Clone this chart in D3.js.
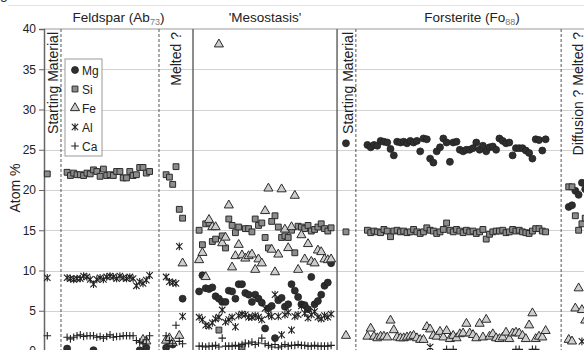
<!DOCTYPE html>
<html>
<head>
<meta charset="utf-8">
<script src="https://cdn.jsdelivr.net/npm/d3@7"></script>
<style>
  body { margin: 0; background: #fff; }
  svg { display: block; font-family: "Liberation Sans", Arial, sans-serif; }
</style>
</head>
<body>
<svg id="chart" width="584" height="350"></svg>
<script>
const N = null;

// y ticks
const yTicks = [0, 5, 10, 15, 20, 25, 30, 35, 40];
const elements = ['Mg', 'Si', 'Fe', 'Al', 'Ca'];

// analysis numbers (x) where each group begins
const firstAnalysis = { fsStart: 1, fsMain: 7, fsMelt: 37, meso: 47, foStart: 91.5, foMain: 98, foDiff: 159 };

// Feldspar starting material
const fsStartMg = [N];
const fsStartSi = [22.0];
const fsStartFe = [N];
const fsStartAl = [9.1];
const fsStartCa = [1.9];

// Feldspar traverse
const fsMainMg = [0.3, N, N, N, N, N, N, N, 0.1, N, N, N, N, N, N, N, N, N, N, N, N, N, 0.1, N, 0.4, N];
const fsMainSi = [22.2, 21.8, 22.1, 21.9, 21.9, 21.8, 22.1, 22.0, 22.5, 22.3, 21.7, 22.6, 21.8, 21.9, 21.8, 22.3, 22.3, 21.5, 21.5, 22.3, 21.8, 21.9, 22.8, 22.8, 22.1, 22.3];
const fsMainFe = [N, N, N, N, N, N, N, N, N, N, N, N, N, N, N, N, N, N, N, N, N, N, N, 1.4, 1.2, N];
const fsMainAl = [9.1, 9.0, 8.9, 9.0, 9.0, 9.3, 9.2, 8.9, 8.3, 8.9, 9.1, 8.9, 9.2, 9.3, 9.2, 9.0, 9.3, 9.1, 9.0, 9.2, 9.0, 8.1, 8.6, 8.4, 8.8, 9.4];
const fsMainCa = [1.7, 1.5, 1.7, 1.9, 2.0, 1.8, 1.9, 1.9, 1.9, 1.7, 1.8, 1.6, 1.8, 2.0, 1.7, 1.8, 1.8, 1.9, 1.9, 1.9, 1.9, 1.3, 1.1, 0.9, 1.4, 1.9];

// Feldspar "Melted ?"
const fsMeltMg = [0.4, 1.0, 0.8, N, N, 6.5];
const fsMeltSi = [21.9, 21.6, 20.7, 22.9, 17.6, 16.5];
const fsMeltFe = [1.3, 1.6, 1.0, N, 1.9, 10.9];
const fsMeltAl = [9.2, 8.6, 8.5, 8.4, 13.0, 4.3];
const fsMeltCa = [1.9, 1.3, 0.9, 3.2, 1.2, 0.9];

// 'Mesostasis'
const mesoMg = [7.4, 9.4, 7.8, 7.7, 7.9, 6.8, 6.5, 6.1, 6.1, 7.5, 7.4, 6.5, 8.3, 8.3, 7.2, 7.0, 6.1, 7.0, 6.5, 6.0, 2.8, 5.3, 5.6, 1.6, 6.3, 6.6, 5.5, 5.8, 8.3, 7.5, 6.7, 5.8, 5.7, 5.2, 9.2, 5.8, 6.2, 7.0, 8.1, 8.5, 10.9];
const mesoSi = [15.0, 13.2, 15.8, 15.9, 13.6, 13.9, 2.6, 14.3, 12.8, 16.4, 15.6, 14.7, 15.4, 0.5, 15.2, 15.2, 14.8, 16.4, 15.6, 15.9, 14.1, 12.8, 16.1, 16.8, 15.4, 14.1, 14.3, 14.1, 15.0, 12.2, 15.5, 15.4, 15.2, 15.6, 14.9, 15.1, 15.4, 15.8, 15.2, 14.9, 15.3];
const mesoFe = [11.3, 12.2, 9.2, 16.3, 15.4, 15.4, 38.1, 13.4, 14.1, 18.1, 10.4, 11.8, 13.2, 11.9, 11.5, 11.8, 12.0, 10.1, 11.4, 10.9, 17.4, 20.2, 12.6, 9.8, 12.0, 20.1, 15.1, 12.8, 15.4, 19.3, 10.1, 14.4, 11.4, 13.3, 11.1, 10.9, 12.5, 12.3, 11.4, 11.3, 11.4];
const mesoAl = [4.2, 3.9, 3.2, 3.1, 3.5, 4.0, 4.2, 5.1, 3.6, 3.9, 4.2, 3.0, 4.4, 4.6, 4.5, 4.2, 4.2, 4.4, 4.2, 3.9, 5.3, 4.5, 4.3, 7.0, 4.3, 2.0, 4.5, 4.8, 2.6, 4.3, 4.5, 5.6, 4.7, 4.1, 4.5, 4.9, 4.2, 4.0, 4.4, 4.2, 4.6];
const mesoCa = [0.6, 0.6, 0.5, 0.6, 0.6, 0.7, 0.5, 1.6, 0.6, 0.6, 0.6, 0.7, 0.6, 0.8, 1.0, 0.9, 1.1, 0.8, 1.0, 1.6, 0.9, 0.7, 0.5, 0.8, 0.4, 0.6, 0.8, 0.6, 0.7, 0.7, 0.8, 0.7, 0.7, 0.6, 0.6, 0.7, 0.6, 0.6, 0.6, 0.6, 0.7];

// Forsterite starting material
const foStartMg = [25.8];
const foStartSi = [14.8];
const foStartFe = [1.9];
const foStartAl = [N];
const foStartCa = [N];

// Forsterite traverse
const foMainMg = [25.6, 25.3, 25.6, 25.5, 26.1, 26.0, 25.9, 25.1, 24.3, 26.0, 25.9, 26.0, 25.8, 26.1, 25.9, 26.1, 24.8, 26.4, 26.3, 23.9, 23.4, 24.8, 25.3, 26.4, 25.9, 23.5, 25.9, 26.0, 25.0, 24.8, 25.0, 25.0, 25.2, 25.9, 25.0, 25.5, 24.8, 25.3, 25.4, 25.0, 26.4, 26.1, 25.8, 25.9, 24.3, 25.2, 25.2, 25.2, 24.9, 24.6, 23.9, 26.3, 26.2, 24.9, 26.3];
const foMainSi = [15.0, 14.7, 14.9, 14.8, 14.7, 15.1, 14.9, 14.2, 14.9, 15.0, 14.8, 14.9, 14.7, 14.8, 15.1, 14.8, 14.6, 14.8, 15.3, 15.0, 14.9, 14.6, 14.8, 15.1, 15.9, 15.0, 14.8, 15.1, 14.9, 14.7, 15.0, 14.8, 14.9, 14.6, 14.8, 15.1, 13.9, 14.5, 14.8, 14.9, 14.9, 15.0, 14.7, 14.8, 15.1, 14.9, 15.0, 14.8, 14.7, 14.6, 14.9, 15.2, 15.2, 14.9, 14.8];
const foMainFe = [1.8, 2.8, 1.8, 1.6, 1.8, 1.8, 1.7, 3.8, 2.6, 1.7, 1.6, 1.6, 1.7, 1.8, 1.9, 1.6, 1.4, 1.4, 3.0, 2.7, 1.9, 1.8, 2.4, 1.7, 2.5, 1.5, 1.9, 1.6, 2.1, 2.2, 3.4, 2.2, 2.0, 1.6, 3.4, 1.7, 3.9, 1.8, 2.1, 1.6, 1.5, 1.7, 2.3, 1.5, 2.2, 2.3, 2.2, 1.9, 1.5, 3.2, 4.7, 1.5, 1.8, 1.7, 2.5];
const foMainAl = [N, N, N, N, N, N, N, N, N, N, N, N, N, N, N, N, N, N, N, 0.5, N, N, N, N, N, N, N, N, N, N, N, N, N, N, N, N, N, N, N, N, N, N, N, N, N, N, N, N, N, N, N, N, N, N, N];
const foMainCa = [N, N, N, N, N, N, N, N, N, N, N, N, N, N, N, N, N, N, N, N, N, N, N, N, 0.2, N, 0.2, N, N, N, N, N, N, N, N, N, N, N, N, N, N, N, N, N, N, 0.2, 0.2, N, N, N, 0.2, 0.2, N, N, N];

// Forsterite "Diffusion ? Melted ?"
const foDiffMg = [17.9, 18.1, 19.9, 19.4, 20.9, 20.1];
const foDiffSi = [20.4, 20.4, 16.8, 15.0, 15.8, 16.5];
const foDiffFe = [1.4, 1.2, 5.3, 7.8, 5.1, 3.8];
const foDiffAl = [N, N, N, N, 1.2, N];
const foDiffCa = [N, N, N, N, N, N];

// panel layout in analysis-number units
const panels = [
  { title: 'Feldspar (Ab', sub: '73', tail: ')', from: 0, to: 45.15 },
  { title: "'Mesostasis'", sub: '', tail: '', from: 45.15, to: 88.8 },
  { title: 'Forsterite (Fo', sub: '88', tail: ')', from: 88.8, to: 170.6 },
];
const dashedAt = [5.15, 34.85, 94.5, 156.7];
const zoneLabels = [
  { text: 'Starting Material', at: 4.2 },
  { text: 'Melted ?', at: 41.5 },
  { text: 'Starting Material', at: 93.5 },
  { text: 'Diffusion ? Melted ?', at: 163.3 },
];

const groups = [
  { key: 'fsStart', Mg: fsStartMg, Si: fsStartSi, Fe: fsStartFe, Al: fsStartAl, Ca: fsStartCa },
  { key: 'fsMain', Mg: fsMainMg, Si: fsMainSi, Fe: fsMainFe, Al: fsMainAl, Ca: fsMainCa },
  { key: 'fsMelt', Mg: fsMeltMg, Si: fsMeltSi, Fe: fsMeltFe, Al: fsMeltAl, Ca: fsMeltCa },
  { key: 'meso', Mg: mesoMg, Si: mesoSi, Fe: mesoFe, Al: mesoAl, Ca: mesoCa },
  { key: 'foStart', Mg: foStartMg, Si: foStartSi, Fe: foStartFe, Al: foStartAl, Ca: foStartCa },
  { key: 'foMain', Mg: foMainMg, Si: foMainSi, Fe: foMainFe, Al: foMainAl, Ca: foMainCa },
  { key: 'foDiff', Mg: foDiffMg, Si: foDiffSi, Fe: foDiffFe, Al: foDiffAl, Ca: foDiffCa },
];

const points = [];
elements.forEach((el) => {
  groups.forEach((g) => {
    g[el].forEach((v, i) => {
      if (v !== null) points.push({ el: el, n: firstAnalysis[g.key] + i, v: v });
    });
  });
});

const svg = d3.select('#chart');
const plotTop = 29, plotBottom = 351, plotLeft = 44;

const x = d3.scaleLinear().domain([0, 170.6]).range([plotLeft, 607]);
const y = d3.scaleLinear().domain([0, 40]).range([plotBottom, plotTop]);

// faint header line and stray figure letter
svg.append('line').attr('x1', 8).attr('x2', 584).attr('y1', 5.5).attr('y2', 5.5)
  .style('stroke', '#e2e2e2');
svg.append('text').attr('x', 0).attr('y', -1).style('font-size', '14px').style('fill', '#333').text('g');

// gridlines
svg.append('g').selectAll('line')
  .data(yTicks.filter((t) => t > 0 && t < 40))
  .join('line')
  .attr('x1', plotLeft).attr('x2', 584)
  .attr('y1', (d) => Math.round(y(d)) + 0.5).attr('y2', (d) => Math.round(y(d)) + 0.5)
  .style('stroke', '#d2d2d2').style('stroke-width', 1.2);

// top border
svg.append('line').attr('x1', plotLeft).attr('x2', 584)
  .attr('y1', y(40)).attr('y2', y(40))
  .style('stroke', '#999').style('stroke-width', 1.2);

// panel separators
svg.append('g').selectAll('line')
  .data(panels.slice(1))
  .join('line')
  .attr('x1', (d) => x(d.from)).attr('x2', (d) => x(d.from))
  .attr('y1', plotTop).attr('y2', plotBottom)
  .style('stroke', '#666').style('stroke-width', 1.5);

svg.append('g').selectAll('line')
  .data(dashedAt)
  .join('line')
  .attr('x1', (d) => x(d)).attr('x2', (d) => x(d))
  .attr('y1', plotTop).attr('y2', plotBottom)
  .style('stroke', '#555').style('stroke-width', 1)
  .style('stroke-dasharray', '3,2');

// panel titles
const titles = svg.append('g').selectAll('text')
  .data(panels)
  .join('text')
  .attr('x', (d) => x((d.from + d.to) / 2))
  .attr('y', 22)
  .attr('text-anchor', 'middle')
  .style('font-size', '13.5px')
  .style('fill', '#222');
titles.append('tspan').text((d) => d.title);
titles.append('tspan').attr('dy', 3).style('font-size', '9px').style('fill', '#777').text((d) => d.sub);
titles.append('tspan').attr('dy', -3).text((d) => d.tail);

// rotated zone labels
svg.append('g').selectAll('text')
  .data(zoneLabels)
  .join('text')
  .attr('transform', (d) => `translate(${x(d.at)},${plotTop + 3}) rotate(-90)`)
  .attr('text-anchor', 'end')
  .style('font-size', '14px')
  .style('fill', '#222')
  .text((d) => d.text);

// y axis
const yAxis = d3.axisLeft(y).tickValues(yTicks).tickSize(5).tickPadding(3);
const ya = svg.append('g').attr('transform', `translate(${plotLeft},0)`).call(yAxis);
ya.select('.domain').style('stroke', '#666').style('stroke-width', 1.5);
ya.selectAll('.tick line').style('stroke', '#666');
ya.selectAll('.tick text').style('font-size', '12px').style('fill', '#222')
  .style('font-family', '"Liberation Sans", Arial, sans-serif');

svg.append('text')
  .attr('transform', `translate(20,${(plotTop + plotBottom) / 2 - 2}) rotate(-90)`)
  .attr('text-anchor', 'middle')
  .style('font-size', '14px')
  .style('fill', '#222')
  .text('Atom %');

// markers
const markerPath = {
  Mg: d3.symbol(d3.symbolCircle, 38)(),
  Si: d3.symbol(d3.symbolSquare, 34)(),
  Fe: d3.symbol(d3.symbolTriangle, 36)(),
  Al: 'M-3.2,-3.2L3.2,3.2M-3.2,3.2L3.2,-3.2M0,-3.8L0,3.8',
  Ca: 'M-3.8,0L3.8,0M0,-3.8L0,3.8',
};
const markerStyle = {
  Mg: { fill: '#2e2e2e', stroke: '#222', sw: 0.8 },
  Si: { fill: '#8c8c8c', stroke: '#2b2b2b', sw: 1 },
  Fe: { fill: '#cdcdcd', stroke: '#2b2b2b', sw: 1 },
  Al: { fill: 'none', stroke: '#222', sw: 1.1 },
  Ca: { fill: 'none', stroke: '#222', sw: 1.1 },
};

svg.append('g').selectAll('path')
  .data(points)
  .join('path')
  .attr('transform', (d) => `translate(${x(d.n)},${y(d.v)})`)
  .attr('d', (d) => markerPath[d.el])
  .style('fill', (d) => markerStyle[d.el].fill)
  .style('stroke', (d) => markerStyle[d.el].stroke)
  .style('stroke-width', (d) => markerStyle[d.el].sw);

// legend
const legend = svg.append('g').attr('transform', 'translate(65,59)');
legend.append('rect').attr('width', 37).attr('height', 97)
  .style('fill', '#fff').style('stroke', '#999');
const li = legend.selectAll('g.item')
  .data(elements)
  .join('g')
  .attr('class', 'item')
  .attr('transform', (d, i) => `translate(10,${11 + i * 19})`);
li.append('path')
  .attr('d', (d) => markerPath[d])
  .style('fill', (d) => markerStyle[d].fill)
  .style('stroke', (d) => markerStyle[d].stroke)
  .style('stroke-width', (d) => markerStyle[d].sw);
li.append('text').attr('x', 7).attr('y', 4.5)
  .style('font-size', '12px').style('fill', '#222')
  .text((d) => d);
</script>
</body>
</html>
